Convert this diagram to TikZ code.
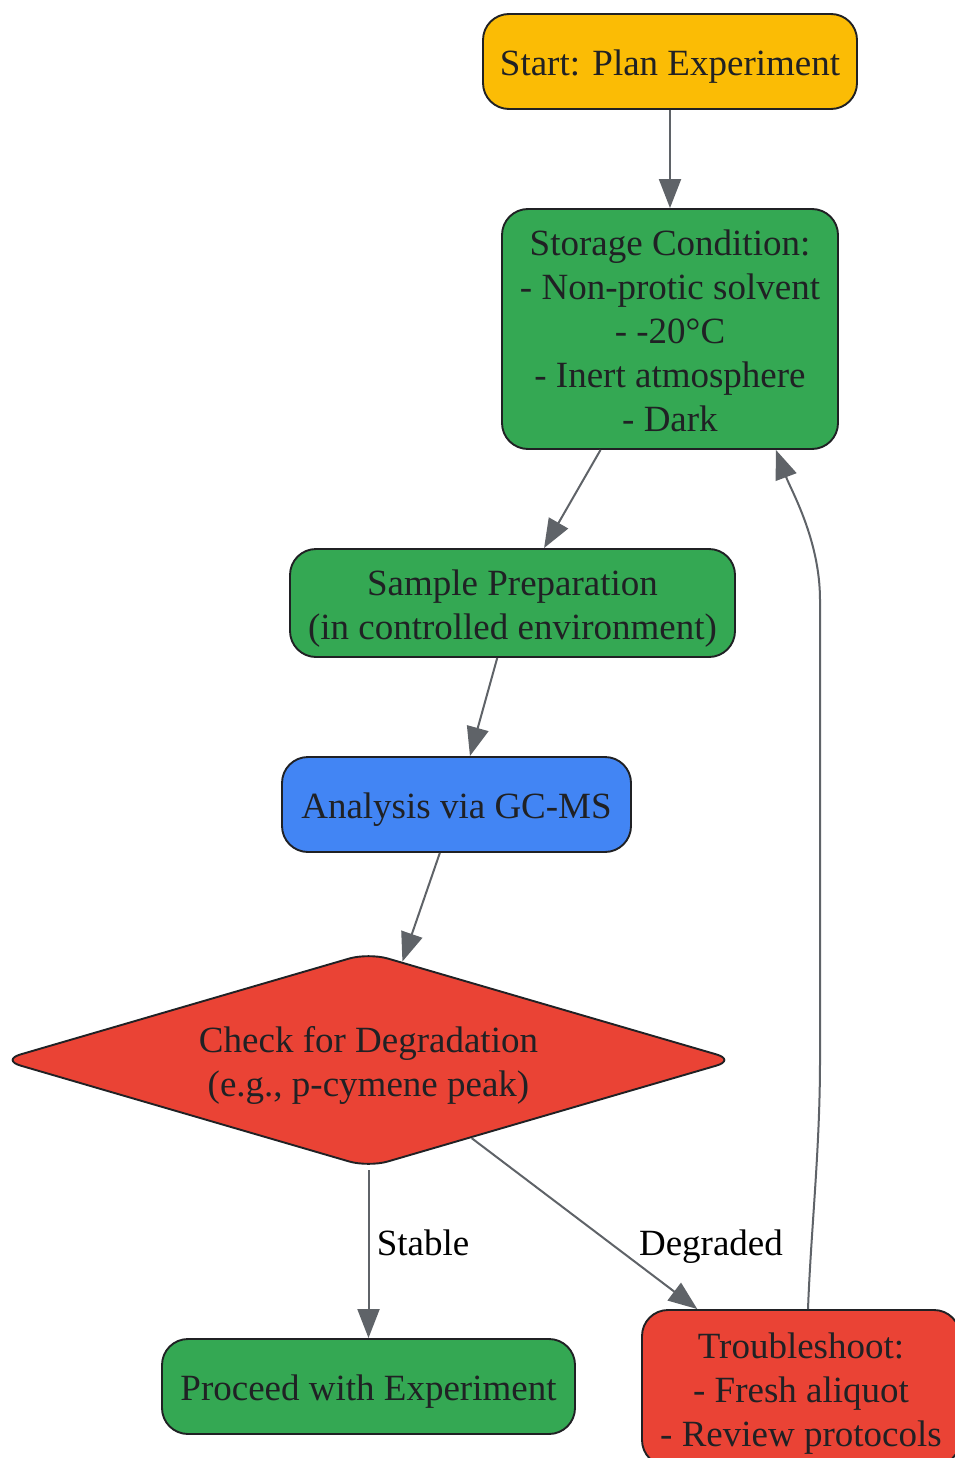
\documentclass[tikz,border=0pt]{standalone}
\usepackage{fontspec}
\setmainfont{Liberation Serif}
\usetikzlibrary{arrows.meta,shapes.geometric}
\definecolor{gyellow}{HTML}{FBBC05}
\definecolor{ggreen}{HTML}{34A853}
\definecolor{gblue}{HTML}{4285F4}
\definecolor{gred}{HTML}{EA4335}
\definecolor{txt}{HTML}{202124}
\definecolor{edgec}{HTML}{5F6368}
\newcommand\lst{\rule[-7pt]{0pt}{43pt}}
\tikzset{
  box/.style={rectangle, rounded corners=26pt, draw=txt, line width=1.9pt, text=txt,
    font=\fontsize{37}{44}\selectfont, align=center, inner sep=0pt},
  dec/.style={diamond, aspect=3.42, rounded corners=20pt, draw=txt, line width=1.9pt, text=txt,
    font=\fontsize{37}{44}\selectfont, align=center, inner sep=0pt},
  edge/.style={draw=edgec, line width=2pt, -{Triangle[length=29pt,width=22pt]}},
  lbl/.style={font=\fontsize{37}{44}\selectfont, text=black, inner sep=0pt}
}
\begin{document}
\begin{tikzpicture}[x=1pt,y=-1pt]
\useasboundingbox (0,0) rectangle (954,1458);
\node[box, fill=gyellow, minimum width=374pt, minimum height=95pt] (start) at (670,61.5) {\lst Start: Plan Experiment};
\node[box, fill=ggreen, minimum width=336pt, minimum height=240pt] (store) at (670,329)
  {\lst Storage Condition:\\\lst - Non-protic solvent\\\lst - -20°C\\\lst - Inert atmosphere\\\lst - Dark};
\node[box, fill=ggreen, minimum width=445pt, minimum height=108pt] (prep) at (512.5,603)
  {\lst Sample Preparation\\\lst (in controlled environment)};
\node[box, fill=gblue, minimum width=349pt, minimum height=95pt] (gcms) at (456.5,804.5) {\lst Analysis via GC-MS};
\node[dec, fill=gred, minimum width=735pt, minimum height=215pt] (check) at (368.5,1060)
  {\lst Check for Degradation\\\lst (e.g., p-cymene peak)};
\node[box, fill=ggreen, minimum width=413pt, minimum height=95pt] (proceed) at (368.5,1386.5) {\lst Proceed with Experiment};
\node[box, fill=gred, minimum width=318pt, minimum height=156pt] (trouble) at (801,1388)
  {\lst Troubleshoot:\\\lst - Fresh aliquot\\\lst - Review protocols};
\node[lbl] (lstable) at (423,1241) {\lst Stable};
\node[lbl] (ldeg) at (711,1241) {\lst Degraded};
\coordinate (c1) at (820,1060);
\coordinate (c2) at (820,600);
\draw[edge] (start) -- (store);
\draw[edge] (store) -- (prep);
\draw[edge] (prep) -- (gcms);
\draw[edge] (gcms) -- (check);
\draw[edge] ([yshift=-2pt]check.south) -- (proceed.north);
\draw[edge] (check) -- (trouble);
\draw[edge] ([xshift=7pt]trouble.north) .. controls +(3,-80) and +(0,90) .. (c1) -- (c2)
  .. controls +(0,-60) and +(15,40) .. ([xshift=-63pt]store.south east);
\end{tikzpicture}
\end{document}
